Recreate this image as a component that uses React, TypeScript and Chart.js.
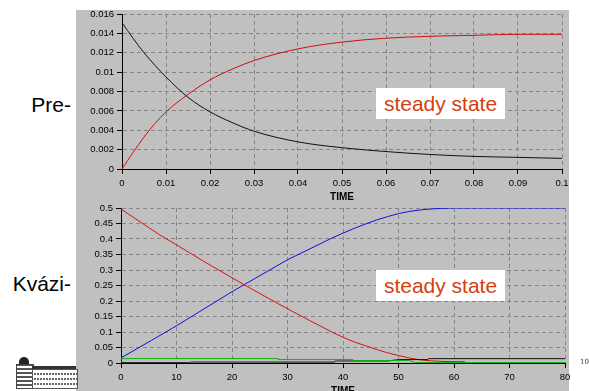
import React, { useEffect, useRef } from "react";
import { Chart, registerables } from "chart.js";
Chart.register(...registerables);

// ---------- Top chart (Pre- steady state) ----------
const topTime = [0, 0.0025, 0.005, 0.0075, 0.01, 0.015, 0.02, 0.025, 0.03, 0.04, 0.05, 0.06, 0.07, 0.08, 0.09, 0.1];
const topBlack = [0.0151, 0.0135, 0.012, 0.0107, 0.0095, 0.0074, 0.0059, 0.0048, 0.0039, 0.0028, 0.0022, 0.0018, 0.0015, 0.0013, 0.0012, 0.0011];
const topRed = [0, 0.0017, 0.0033, 0.0047, 0.0059, 0.0077, 0.0092, 0.0103, 0.0112, 0.0124, 0.0131, 0.0135, 0.0137, 0.0138, 0.0139, 0.0139];
const topXTicks = [0, 0.01, 0.02, 0.03, 0.04, 0.05, 0.06, 0.07, 0.08, 0.09, 0.1];
const topXLabels = ["0", "0.01", "0.02", "0.03", "0.04", "0.05", "0.06", "0.07", "0.08", "0.09", "0.1"];
const topYTicks = [0, 0.002, 0.004, 0.006, 0.008, 0.01, 0.012, 0.014, 0.016];
const topYLabels = ["0", "0.002", "0.004", "0.006", "0.008", "0.01", "0.012", "0.014", "0.016"];

// ---------- Bottom chart (Kvázi- steady state) ----------
const redTime = [0, 0.2, 7, 10, 15, 20, 25, 30, 34, 38, 40, 42, 44, 46, 48, 50, 52, 54, 56, 58, 62];
const redValues = [0.5, 0.494, 0.413, 0.381, 0.327, 0.275, 0.224, 0.175, 0.137, 0.1, 0.083, 0.068, 0.056, 0.044, 0.033, 0.024, 0.016, 0.01, 0.007, 0.005, 0.004];
const blueTime = [0, 0.05, 5.5, 10, 20, 30, 38, 40, 42, 44, 46, 48, 50, 52, 54, 56, 58, 60, 80];
const blueValues = [0.003, 0.017, 0.073, 0.12, 0.23, 0.333, 0.403, 0.419, 0.434, 0.448, 0.461, 0.472, 0.482, 0.489, 0.494, 0.497, 0.499, 0.5, 0.5];
const greenTime = [0, 28.3, 28.4, 41.8, 41.9, 52, 53, 80];
const greenValues = [0.0143, 0.0143, 0.011, 0.011, 0.0078, 0.0078, 0.0013, 0.0013];
const blackTime = [0, 12.4, 12.5, 38.5, 38.6, 48, 50, 55.3, 55.4, 80];
const blackValues = [0.001, 0.001, 0.003, 0.003, 0.0065, 0.0065, 0.011, 0.011, 0.014, 0.014];
const botXTicks = [0, 10, 20, 30, 40, 50, 60, 70, 80];
const botXLabels = ["0", "10", "20", "30", "40", "50", "60", "70", "80"];
const botYTicks = [0, 0.05, 0.1, 0.15, 0.2, 0.25, 0.3, 0.35, 0.4, 0.45, 0.5];
const botYLabels = ["0", "0.05", "0.1", "0.15", "0.2", "0.25", "0.3", "0.35", "0.4", "0.45", "0.5"];

const toPts = (xs: number[], ys: number[]) => xs.map((x, i) => ({ x, y: ys[i] }));

const tickFont = { family: "'Liberation Sans', Arial, sans-serif", size: 9.5 };
const titleFont = { family: "'Liberation Sans', Arial, sans-serif", size: 10, weight: "bold" as const };

function axis(min: number, max: number, ticks: number[], labels: string[], isX: boolean, fitSize: number) {
  return {
    type: "linear" as const,
    min,
    max,
    afterBuildTicks: (scale: any) => {
      scale.ticks = ticks.map((v) => ({ value: v }));
    },
    afterFit: (scale: any) => {
      if (isX) scale.height = fitSize;
      else scale.width = fitSize;
    },
    ticks: {
      autoSkip: false,
      maxRotation: 0,
      minRotation: 0,
      color: "#000",
      font: tickFont,
      padding: isX ? 4 : 3,
      callback: (_v: any, i: number) => labels[i],
    },
    grid: {
      color: "#858585",
      lineWidth: 1,
      tickColor: "#000",
      tickLength: 5,
      tickBorderDash: [],
      drawTicks: true,
    },
    border: { display: true, color: "#000", width: 1, dash: [4, 3] },
    title: isX
      ? { display: true, text: "TIME", color: "#000", font: titleFont, padding: { top: 0, bottom: 2 } }
      : { display: false },
  };
}

function ChartCanvas(props: { config: any; style: React.CSSProperties; width: number; height: number }) {
  const ref = useRef<HTMLCanvasElement | null>(null);
  useEffect(() => {
    if (!ref.current) return;
    const chart = new Chart(ref.current, props.config);
    return () => chart.destroy();
  }, []);
  return <canvas ref={ref} width={props.width} height={props.height} style={{ position: "absolute", ...props.style, width: props.width, height: props.height }} />;
}

const line = (data: any[], color: string, smooth: boolean) => ({
  data,
  borderColor: color,
  borderWidth: 1,
  pointRadius: 0,
  fill: false,
  tension: 0,
  cubicInterpolationMode: smooth ? ("monotone" as const) : ("default" as const),
});

const topConfig = {
  type: "line",
  data: {
    datasets: [line(toPts(topTime, topRed), "#cc1010", true), line(toPts(topTime, topBlack), "#111", true)],
  },
  options: {
    animation: false,
    responsive: false,
    devicePixelRatio: 1,
    layout: { padding: { top: 14, right: 27, left: 0, bottom: 0 } },
    plugins: { legend: { display: false }, tooltip: { enabled: false } },
    scales: {
      x: axis(0, 0.1, topXTicks, topXLabels, true, 36),
      y: axis(0, 0.016, topYTicks, topYLabels, false, 46),
    },
  },
};

const botConfig = {
  type: "line",
  data: {
    datasets: [
      line(toPts(greenTime, greenValues), "#10b010", false),
      line(toPts(blackTime, blackValues), "#111", false),
      line(toPts(redTime, redValues), "#dd1010", false),
      line(toPts(blueTime, blueValues), "#1010dd", false),
    ],
  },
  options: {
    animation: false,
    responsive: false,
    devicePixelRatio: 1,
    layout: { padding: { top: 9, right: 24, left: 0, bottom: 0 } },
    plugins: { legend: { display: false }, tooltip: { enabled: false } },
    scales: {
      x: axis(0, 80, botXTicks, botXLabels, true, 36),
      y: axis(0, 0.5, botYTicks, botYLabels, false, 45),
    },
  },
};

const sideText: React.CSSProperties = {
  position: "absolute",
  fontFamily: "'Liberation Sans', Arial, sans-serif",
  fontSize: 21,
  color: "#000",
  whiteSpace: "nowrap",
  lineHeight: "24px",
};

const steadyBox: React.CSSProperties = {
  position: "absolute",
  left: 376,
  width: 129,
  height: 31,
  background: "#fff",
  color: "#d4400f",
  fontFamily: "'Liberation Sans', Arial, sans-serif",
  fontSize: 21,
  lineHeight: "31px",
  textAlign: "center",
  whiteSpace: "nowrap",
};

function Logo() {
  return (
    <div style={{ position: "absolute", left: 15, top: 357, width: 62, height: 31 }}>
      <div style={{ position: "absolute", left: 4, top: 0, width: 10, height: 8, background: "#222", borderRadius: "5px 5px 0 0" }} />
      <div
        style={{
          position: "absolute",
          left: 1,
          top: 7,
          width: 16,
          height: 23,
          background: "repeating-linear-gradient(0deg, #fff 0 2px, #555 2px 4px), #fff",
          border: "1px solid #444",
        }}
      />
      <div style={{ position: "absolute", left: 17, top: 9, width: 44, height: 3, background: "#333" }} />
      <div
        style={{
          position: "absolute",
          left: 17,
          top: 12,
          width: 44,
          height: 18,
          background: "repeating-linear-gradient(90deg, #fff 0 1px, transparent 1px 3px), repeating-linear-gradient(0deg, #fff 0 3px, #666 3px 5px)",
          border: "1px solid #555",
        }}
      />
    </div>
  );
}

export default function App() {
  return (
    <div style={{ position: "fixed", left: 0, top: 0, width: 589, height: 391, overflow: "hidden", background: "#fff" }}>
      <div style={{ position: "absolute", left: 76, top: 10, width: 493, height: 381, background: "#c0c0c0" }} />
      <ChartCanvas config={topConfig} width={513} height={205} style={{ left: 76, top: 0 }} />
      <ChartCanvas config={botConfig} width={513} height={200} style={{ left: 76, top: 199 }} />
      <div style={{ ...sideText, right: 589 - 71, top: 93 }}>Pre-</div>
      <div style={{ ...sideText, right: 589 - 71, top: 272 }}>Kvázi-</div>
      <div style={{ ...steadyBox, top: 88 }}>steady state</div>
      <div style={{ ...steadyBox, top: 270 }}>steady state</div>
      <div style={{ position: "absolute", left: 580, top: 358, fontFamily: "'DejaVu Serif', serif", fontSize: 7, color: "#333" }}>10</div>
      <Logo />
    </div>
  );
}
